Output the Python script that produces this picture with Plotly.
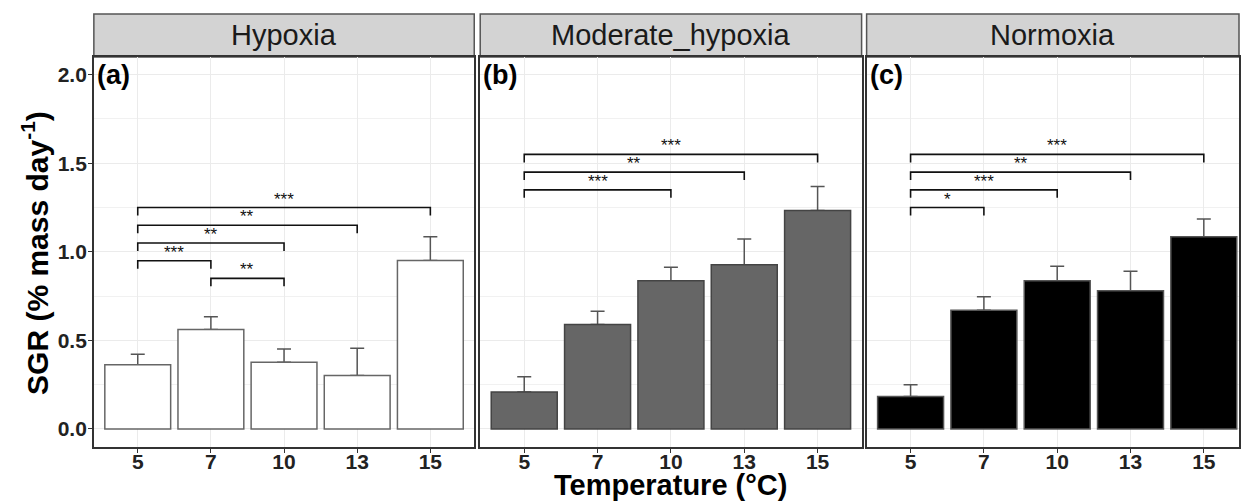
import plotly.graph_objects as go

# ---------------- data ----------------
temps = ['5', '7', '10', '13', '15']
panels = ['Hypoxia', 'Moderate_hypoxia', 'Normoxia']
panel_tags = ['(a)', '(b)', '(c)']

hyp_mean = [0.362, 0.561, 0.377, 0.301, 0.951]
hyp_se = [0.060, 0.073, 0.075, 0.155, 0.134]
mod_mean = [0.209, 0.589, 0.836, 0.927, 1.233]
mod_se = [0.085, 0.076, 0.077, 0.145, 0.136]
nor_mean = [0.183, 0.670, 0.836, 0.780, 1.085]
nor_se = [0.066, 0.077, 0.083, 0.111, 0.101]

hyp_sig = [('5', '7', 0.95, '***'), ('7', '10', 0.85, '**'), ('5', '10', 1.05, '**'),
           ('5', '13', 1.15, '**'), ('5', '15', 1.25, '***')]
mod_sig = [('5', '10', 1.35, '***'), ('5', '13', 1.45, '**'), ('5', '15', 1.55, '***')]
nor_sig = [('5', '7', 1.25, '*'), ('5', '10', 1.35, '***'), ('5', '13', 1.45, '**'),
           ('5', '15', 1.55, '***')]

means = [hyp_mean, mod_mean, nor_mean]
ses = [hyp_se, mod_se, nor_se]
sigs = [hyp_sig, mod_sig, nor_sig]
fills = ['#ffffff', '#666666', '#000000']
outlines = ['#666666', '#444444', '#555555']

# ---------------- layout geometry ----------------
W, H = 1241, 502
px_dom = [(94, 475), (481, 863), (868, 1241)]
xranges = [[-0.6, 4.6], [-0.6, 4.6], [-0.6, 4.48]]
ytop_px, ybot_px = 57, 447
strip_top_px = 14
ydom = [1 - ybot_px / H, 1 - ytop_px / H]
FONT = 'Liberation Sans, Arial, sans-serif'
drop = 0.045

fig = go.Figure()
annotations = []
shapes = []

for i in range(3):
    xa = 'x' if i == 0 else f'x{i+1}'
    ya = 'y' if i == 0 else f'y{i+1}'
    # error bars (drawn first, so the bars cover their lower part)
    fig.add_trace(go.Bar(
        x=temps, y=means[i], xaxis=xa, yaxis=ya, width=0.9,
        marker=dict(color='rgba(0,0,0,0)', line=dict(width=0)),
        error_y=dict(type='data', symmetric=False, array=ses[i],
                     arrayminus=[0] * len(temps), color='#555555',
                     thickness=1.5, width=7),
        showlegend=False, hoverinfo='skip'))
    fig.add_trace(go.Bar(
        x=temps, y=means[i], xaxis=xa, yaxis=ya, width=0.9,
        marker=dict(color=fills[i], line=dict(color=outlines[i], width=1.5)),
        showlegend=False, hoverinfo='skip'))
    for (a, b, yv, lab) in sigs[i]:
        fig.add_trace(go.Scatter(
            x=[a, a, b, b], y=[yv - drop, yv, yv, yv - drop], xaxis=xa, yaxis=ya,
            mode='lines', line=dict(color='#111111', width=1.6),
            showlegend=False, hoverinfo='skip'))
        xm = (temps.index(a) + temps.index(b)) / 2
        annotations.append(dict(
            x=xm, y=yv, xref=xa, yref=ya, text=lab, showarrow=False,
            yanchor='bottom', yshift=-3,
            font=dict(family=FONT, size=17, color='#111111')))
    # panel tag
    annotations.append(dict(
        x=0, y=2.0, xref=f'{xa} domain', yref=ya, text=panel_tags[i], showarrow=False,
        xanchor='left', yanchor='middle', xshift=1,
        font=dict(family=FONT, size=27, color='#000000', weight='bold')))
    # strip
    shapes.append(dict(type='rect', xref=f'{xa} domain', yref='paper',
                       x0=0, x1=1, y0=ydom[1], y1=1 - strip_top_px / H,
                       fillcolor='#d3d3d3', line=dict(color='#555555', width=1.5),
                       layer='below'))
    annotations.append(dict(
        x=0.5, y=(ydom[1] + 1 - strip_top_px / H) / 2, xref=f'{xa} domain', yref='paper',
        text=panels[i], showarrow=False, xanchor='center', yanchor='middle',
        font=dict(family=FONT, size=29, color='#1a1a1a')))

    d0, d1 = px_dom[i]
    xkey = 'xaxis' if i == 0 else f'xaxis{i+1}'
    ykey = 'yaxis' if i == 0 else f'yaxis{i+1}'
    fig.update_layout(**{
        xkey: dict(domain=[d0 / W, d1 / W], anchor=ya, type='category',
                   categoryorder='array', categoryarray=temps,
                   range=xranges[i], showgrid=True, gridcolor='#ebebeb', gridwidth=1,
                   showline=True, mirror=True, linecolor='#333333', linewidth=1.5,
                   ticks='outside', ticklen=4, tickcolor='#333333',
                   ticklabelstandoff=-9,
                   tickfont=dict(family=FONT, size=21, color='#222222', weight='bold'),
                   zeroline=False, fixedrange=True),
        ykey: dict(domain=ydom, anchor=xa, range=[-0.102, 2.1],
                   tickvals=[0, 0.5, 1.0, 1.5, 2.0],
                   ticktext=['0.0', '0.5', '1.0', '1.5', '2.0'],
                   showticklabels=(i == 0), ticks='outside' if i == 0 else '',
                   ticklen=4, tickcolor='#333333',
                   ticklabelstandoff=-3,
                   showgrid=True, gridcolor='#ebebeb', gridwidth=1,
                   minor=dict(dtick=0.25, tick0=0, showgrid=True,
                              gridcolor='#f1f1f1', gridwidth=0.8),
                   showline=True, mirror=True, linecolor='#333333', linewidth=1.5,
                   tickfont=dict(family=FONT, size=21, color='#222222', weight='bold'),
                   zeroline=False, fixedrange=True),
    })

annotations.append(dict(
    x=35 / W, y=1 - 253 / H, xref='paper', yref='paper',
    text='SGR (% mass day<sup>-1</sup>)', textangle=-90, showarrow=False,
    xanchor='center', yanchor='middle',
    font=dict(family=FONT, size=30, color='#000000', weight='bold')))
annotations.append(dict(
    x=672 / W, y=1 - 485 / H, xref='paper', yref='paper',
    text='Temperature (°C)', showarrow=False,
    xanchor='center', yanchor='middle',
    font=dict(family=FONT, size=29, color='#000000', weight='bold')))

fig.update_layout(
    width=W, height=H, margin=dict(l=0, r=0, t=0, b=0),
    paper_bgcolor='white', plot_bgcolor='white',
    barmode='overlay', annotations=annotations, shapes=shapes,
    showlegend=False)

fig.write_html('out.html')
